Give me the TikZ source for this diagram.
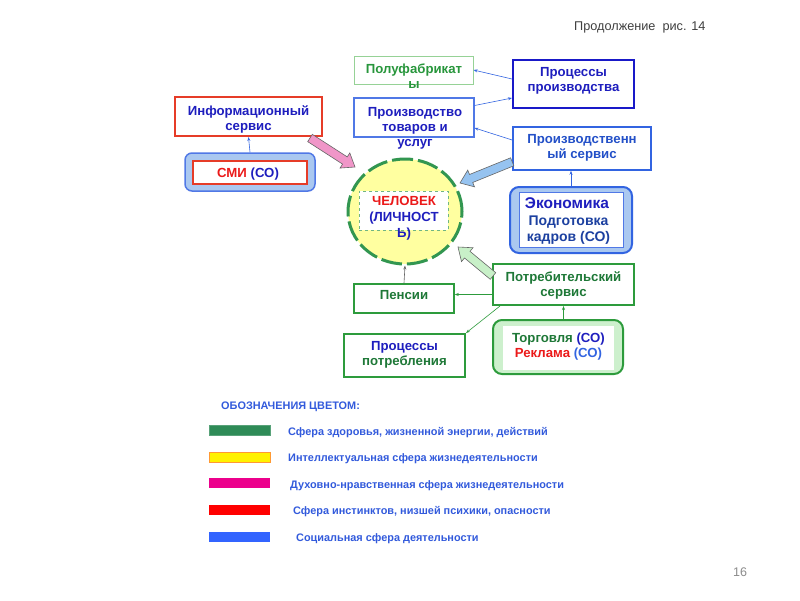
\documentclass[tikz,border=0pt]{standalone}
\usepackage{fontspec}
\setmainfont{Liberation Sans}
\usetikzlibrary{calc,arrows.meta,shapes.geometric}
\definecolor{tblue}{RGB}{30,30,190}
\definecolor{tblue2}{RGB}{35,80,200}
\definecolor{lblue}{RGB}{50,100,225}
\definecolor{tgreen}{RGB}{30,120,55}
\definecolor{tgreen2}{RGB}{40,150,60}
\definecolor{bgreen}{RGB}{45,155,60}
\definecolor{pfgreen}{RGB}{150,210,150}
\definecolor{tred}{RGB}{235,25,25}
\definecolor{bred}{RGB}{230,60,40}
\definecolor{bblue}{RGB}{80,120,230}
\definecolor{dblue}{RGB}{25,25,200}
\definecolor{fblue}{RGB}{170,200,240}
\definecolor{fgreen}{RGB}{205,240,205}
\definecolor{cyellow}{RGB}{255,255,160}
\definecolor{cgreen}{RGB}{50,150,80}
\definecolor{pinkf}{RGB}{240,150,200}
\definecolor{ablue}{RGB}{150,195,240}
\definecolor{agreen}{RGB}{200,240,200}
\definecolor{legblue}{RGB}{50,90,220}
\definecolor{lggreen}{RGB}{46,139,87}
\definecolor{lgblue}{RGB}{50,100,255}
\newcommand\blockarr[4]{%
  \coordinate (ba1) at ($(#2)!12pt!(#1)$);
  \draw[draw=#4, fill=#3, line width=0.6pt, line join=miter]
    ($(#1)!4.3pt!90:(#2)$) -- ($(ba1)!4.3pt!-90:(#1)$) -- ($(ba1)!9pt!-90:(#1)$)
    -- (#2) -- ($(ba1)!9pt!90:(#1)$) -- ($(ba1)!4.3pt!90:(#1)$)
    -- ($(#1)!4.3pt!-90:(#2)$) -- cycle;}
\begin{document}
\begin{tikzpicture}[x=1pt,y=-1pt,
  box/.style={draw, fill=white, inner sep=0pt, rectangle},
  txt/.style={inner sep=0pt, align=center, font=\fontsize{13.2}{15}\selectfont\bfseries},
  leg/.style={inner sep=0pt, anchor=west, text=legblue, font=\fontsize{10.9}{12}\selectfont\bfseries},
  bar/.style={inner sep=0pt, minimum width=61pt, minimum height=10pt, anchor=west},
  thin/.style={line width=0.6pt, -{Stealth[length=4pt,width=3pt]}}]
\useasboundingbox[fill=white] (0,0) rectangle (800,600);

% header and page number
\node[anchor=west, inner sep=0pt, text=black!75, font=\fontsize{12.7}{14}\selectfont] (hdr) at (574,27) {Продолжение\ \ рис. 14};
\node[anchor=west, inner sep=0pt, text=black!45, font=\fontsize{12.5}{14}\selectfont] (pg) at (733,572) {16};

% boxes
\node[box, draw=pfgreen, line width=1pt, minimum width=119pt, minimum height=28pt] (pf) at (413.5,70) {};
\node[box, draw=dblue, line width=2pt, minimum width=121pt, minimum height=48pt] (pp) at (573.5,84) {};
\node[box, draw=bred, line width=2pt, minimum width=147pt, minimum height=39pt] (is) at (248.5,116.5) {};
\node[box, draw=bblue, line width=1.2pt, minimum width=120pt, minimum height=39pt] (pt) at (414,117.5) {};
\node[box, draw=lblue, line width=1.6pt, minimum width=138pt, minimum height=43pt] (ps) at (582,148.5) {};

% SMI
\node[box, draw=bblue, fill=fblue, line width=1.5pt, rounded corners=7pt, minimum width=130pt, minimum height=38pt] (smiout) at (250,172) {};
\node[box, draw=bred, line width=2pt, minimum width=114pt, minimum height=23pt] (smi) at (250,172.5) {};

% person circle
\node[ellipse, draw=cgreen, fill=cyellow, line width=3pt, dash pattern=on 21pt off 5pt, minimum width=114pt, minimum height=105pt, inner sep=0pt] (man) at (405,211.5) {};
\node[box, draw=cgreen!70, line width=0.8pt, dashed, minimum width=89pt, minimum height=39pt] (mantxt) at (403.5,210.5) {};

% Economy
\node[box, draw=lblue, fill=fblue, line width=2pt, rounded corners=9pt, minimum width=122pt, minimum height=66pt] (ekout) at (571,220) {};
\node[box, draw=bblue, line width=0.8pt, minimum width=104pt, minimum height=55pt] (ek) at (571,219.5) {};

% consumer
\node[box, draw=bgreen, line width=2pt, minimum width=141pt, minimum height=41pt] (potr) at (563.5,284.5) {};
\node[box, draw=bgreen, line width=1.5pt, minimum width=100pt, minimum height=29pt] (pens) at (404,298.5) {};
\node[box, draw=bgreen, line width=2pt, minimum width=121pt, minimum height=43pt] (pp2) at (404.5,355.5) {};
\node[box, draw=bgreen, fill=fgreen, line width=2pt, rounded corners=9pt, minimum width=130pt, minimum height=54pt] (torgout) at (558,347) {};
\node[box, draw=none, minimum width=111pt, minimum height=44pt] (torg) at (558.5,347.5) {};

% texts
\node[txt, text=tgreen2] (pft) at (414,76) {Полуфабрикат\\ы};
\node[txt, text=tblue] (ppt) at (573.5,80.5) {Процессы\\производства};
\node[txt, text=tblue] (ist) at (248.5,119.5) {Информационный\\сервис};
\node[txt, text=tblue] (ptt) at (415,128) {Производство\\товаров и\\услуг};
\node[txt, text=tblue2] (pst) at (582,148) {Производственн\\ый сервис};
\node[txt] (smit) at (248,174.5) {\textcolor{tred}{СМИ} \textcolor{tblue}{(СО)}};
\node[txt, font=\fontsize{13.2}{16}\selectfont\bfseries] (mant) at (404,218) {\textcolor{tred}{ЧЕЛОВЕК}\\\textcolor{tblue}{(ЛИЧНОСТ}\\\textcolor{tblue}{Ь)}};
\node[txt, text=tblue, font=\fontsize{15.5}{17}\selectfont\bfseries] (ekt1) at (567,203) {Экономика};
\node[txt, text=tblue2!80!black, font=\fontsize{14}{16}\selectfont\bfseries] (ekt2) at (568.5,230.5) {Подготовка\\кадров (СО)};
\node[txt, text=tgreen] (potrt) at (563.5,285.5) {Потребительский\\сервис};
\node[txt, text=tgreen] (penst) at (404,295.5) {Пенсии};
\node[txt] (pp2t) at (404.5,354.5) {\textcolor{tblue}{Процессы}\\\textcolor{tgreen}{потребления}};
\node[txt] (torgt) at (558.5,346.5) {\textcolor{tgreen}{Торговля} \textcolor{tblue}{(СО)}\\\textcolor{tred}{Реклама} \textcolor{lblue}{(СО)}};

% thin connectors
\draw[thin, lblue] ($(pp.west)+(0,-5)$) -- (pf.east);
\draw[thin, lblue] ($(pt.east)+(0,-12)$) -- ($(pp.west)+(0,14)$);
\draw[thin, lblue] ($(ps.west)+(0,-8.5)$) -- ($(pt.east)+(0,10.5)$);
\draw[thin, lblue] (smiout.north) -- (is.south);
\draw[thin, lblue] (ekout.north) -- (ekout.north |- ps.south);
\draw[thin, black!60] (pens.north) -- (man.south);
\draw[thin, bgreen] ($(potr.west)+(0,10)$) -- (pens.east |- {$(potr.west)+(0,10)$});
\draw[thin, bgreen] ($(potr.south west)+(8,0)$) -- (pp2.north east);
\draw[thin, bgreen] (torgout.north -| potr.south) -- (potr.south);

% block arrows
\coordinate (pa1) at ($(is.south east)+(-13,1)$);
\coordinate (pa2) at (355,167);
\blockarr{pa1}{pa2}{pinkf}{black!60}
\coordinate (ba1s) at ($(ps.south west)+(0,-9)$);
\coordinate (ba2) at (460,183);
\blockarr{ba1s}{ba2}{ablue}{black!60}
\coordinate (ga1) at ($(potr.north west)+(1,13)$);
\coordinate (ga2) at (458,247);
\blockarr{ga1}{ga2}{agreen}{black!60}

% legend
\node[leg] (legt) at (221,406.5) {ОБОЗНАЧЕНИЯ ЦВЕТОМ:};
\node[bar, fill=lggreen, draw=lggreen!80] (b1) at (209,430) {};
\node[bar, fill=yellow, draw=orange!80, line width=0.8pt] (b2) at (209,457) {};
\node[bar, fill=magenta] (b3) at (209,483) {};
\node[bar, fill=red] (b4) at (209,510) {};
\node[bar, fill=lgblue] (b5) at (209,537) {};
\node[leg] (l1) at (288,432.5) {Сфера здоровья, жизненной энергии, действий};
\node[leg] (l2) at (288,458.5) {Интеллектуальная сфера жизнедеятельности};
\node[leg] (l3) at (290,485.5) {Духовно-нравственная сфера жизнедеятельности};
\node[leg] (l4) at (293,511.5) {Сфера инстинктов, низшей психики, опасности};
\node[leg] (l5) at (296,538.5) {Социальная сфера деятельности};
\end{tikzpicture}
\end{document}
